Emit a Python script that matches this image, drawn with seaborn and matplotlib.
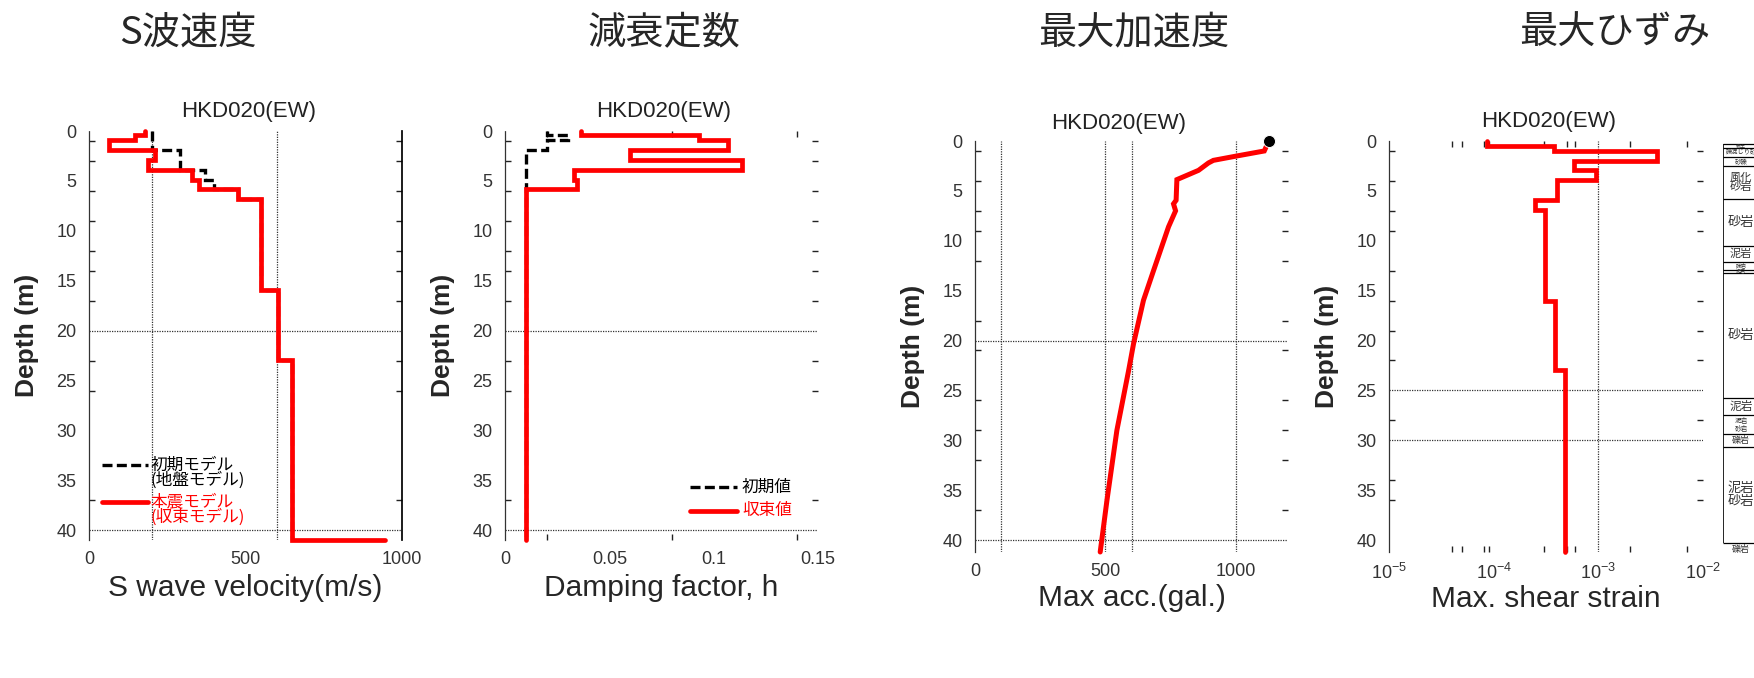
import numpy as np
import pandas as pd
import matplotlib
matplotlib.use("Agg")
import matplotlib.pyplot as plt
import seaborn as sns
from matplotlib.ticker import FixedLocator, NullFormatter, LogFormatterSciNotation

# --- data ---------------------------------------------------------------
# layer boundaries (m) for the velocity / damping profiles
layer_depth = [0, 0.4, 0.95, 1.95, 2.95, 3.9, 4.9, 5.85, 6.85, 15.9, 22.9, 41.0]
vs_initial = [200, 200, 200, 290, 290, 370, 400, 475, 548, 605, 650]
vs_final = [180, 146, 63, 211, 188, 328, 351, 475, 548, 605, 650]
vs_base = 945
h_initial = [0.02, 0.03, 0.02, 0.01, 0.01, 0.01, 0.01, 0.01, 0.01, 0.01, 0.01]
h_final = [0.0365, 0.093, 0.107, 0.060, 0.1136, 0.0331, 0.0344, 0.01, 0.01, 0.01, 0.01]

acc_depth = [0, 0.6, 1.0, 1.5, 1.94, 2.2, 2.94, 3.87, 5.94, 6.3, 7.0, 8.6,
             12.95, 15.96, 20.3, 23.0, 29.0, 36.0, 41.2]
acc_max = [1126, 1116, 1109, 1004, 914, 895, 857, 774, 771, 761, 769, 742,
           685, 646, 608, 589, 544, 506, 480]

strain_depth = [0, 0.5, 1.0, 2.0, 2.95, 3.95, 5.95, 6.95, 16.0, 23.0, 41.2]
strain_max = [8.7e-5, 3.74e-4, 3.66e-3, 5.86e-4, 9.4e-4, 4.03e-4, 2.48e-4,
              3.07e-4, 3.83e-4, 4.77e-4]

geo_depth = [0.27, 0.7, 1.6, 2.53, 5.77, 10.5, 12.1, 12.9, 13.2, 25.8, 27.5,
             29.4, 30.7, 40.3, 41.6]
geo_names = ["表土", "礫混じり砂", "砂礫", "風化\n砂岩", "砂岩", "泥岩", "礫岩", "泥岩",
             "砂岩", "泥岩", "泥岩\n砂岩", "礫岩", "泥岩\n砂岩", "礫岩"]

titles = ["S波速度", "減衰定数", "最大加速度", "最大ひずみ"]
station = "HKD020(EW)"

CJK = "Noto Sans CJK JP"
RED = "#ff0000"
GRID = dict(color="#333333", lw=0.9, ls=(0, (1, 1)), zorder=1)

sns.set_theme(style="white")
plt.rcParams["font.family"] = ["Liberation Sans", CJK]


def step_profile(depth, values, base=None):
    rows = []
    for top, bot, v in zip(depth[:-1], depth[1:], values):
        rows += [(v, top), (v, bot)]
    if base is not None:
        rows.append((base, depth[-1]))
    return pd.DataFrame(rows, columns=["value", "depth"])


W, H = 1754, 678


def box(l, t, r, b):
    return [l / W, 1 - b / H, (r - l) / W, (b - t) / H]


def style_axes(ax, yminor, xminor=(), right_spine=False):
    for s in ["top", "bottom"]:
        ax.spines[s].set_visible(False)
    ax.spines["right"].set_visible(right_spine)
    ax.spines["right"].set_color("black")
    ax.spines["left"].set_linestyle((0, (1, 1)))
    ax.spines["left"].set_linewidth(0.9)
    ax.spines["left"].set_color("#333333")
    ax.set_yticks(np.arange(0, 41, 5))
    ax.yaxis.set_minor_locator(FixedLocator(yminor))
    ax.tick_params(axis="both", which="major", length=0, labelsize=13,
                   labelcolor="#333333")
    ax.tick_params(axis="y", which="major", pad=9)
    ax.tick_params(axis="x", which="major", pad=8)
    ax.tick_params(axis="y", which="minor", direction="in", length=4, width=1,
                   left=True, right=True, color="#222222")
    if len(xminor):
        ax.xaxis.set_minor_locator(FixedLocator(xminor))
        ax.xaxis.set_minor_formatter(NullFormatter())
        ax.tick_params(axis="x", which="minor", direction="in", length=4, width=1,
                       top=True, bottom=True, color="#222222")
    else:
        ax.tick_params(axis="x", which="minor", length=0)
    ax.set_ylabel("Depth (m)", fontsize=19, fontweight="bold", va="center")
    ax.yaxis.set_label_coords(-0.197, 0.5)


def set_xlabel(ax, text, y=-0.117):
    ax.set_xlabel(text, fontsize=21.5, va="center")
    ax.xaxis.set_label_coords(0.5, y)


def legend_rows(ax, x0, x1, xt, rows):
    # rows: (y, line style dict, [text lines], color)
    for y, style, lines, color in rows:
        ax.plot([x0, x1], [y, y], transform=ax.transAxes, clip_on=False, **style)
        for i, line in enumerate(lines):
            ax.text(xt, y - i * 0.037, line, transform=ax.transAxes, ha="left",
                    va="center", fontsize=12, color=color, family=[CJK, "Liberation Sans"])


fig = plt.figure(figsize=(W / 100, H / 100), dpi=100)

black_dash = dict(color="black", lw=2.4, ls=(0, (3, 1.3)))
red_solid = dict(color=RED, lw=3.4)
line_kw = dict(sort=False, estimator=None, clip_on=False, legend=False,
               solid_joinstyle="miter", dash_joinstyle="miter")

# --- panel 1 : S wave velocity --------------------------------------------
ax1 = fig.add_axes(box(89, 131, 402, 540.3))
for v in [200, 600]:
    ax1.axvline(v, **GRID)
for d in [20, 40]:
    ax1.axhline(d, **GRID)
sns.lineplot(data=step_profile(layer_depth, vs_initial), x="value", y="depth",
             ax=ax1, **black_dash, **line_kw)
sns.lineplot(data=step_profile(layer_depth, vs_final, vs_base), x="value", y="depth",
             ax=ax1, **red_solid, **line_kw)
ax1.set_xlim(0, 1000)
ax1.set_ylim(41, 0)
ax1.set_xticks([0, 500, 1000])
style_axes(ax1, [1, 3, 6, 9, 12, 14, 17, 20, 23, 26, 37, 40], right_spine=True)
set_xlabel(ax1, "S wave velocity(m/s)")
legend_rows(ax1, 0.042, 0.188, 0.196, [
    (0.184, black_dash, ["初期モデル", "(地盤モデル)"], "black"),
    (0.094, red_solid, ["本震モデル", "(収束モデル)"], RED),
])

# --- panel 2 : damping ----------------------------------------------------
ax2 = fig.add_axes(box(505, 131, 818, 540.3))
for d in [20, 40]:
    ax2.axhline(d, **GRID)
sns.lineplot(data=step_profile(layer_depth, h_initial), x="value", y="depth",
             ax=ax2, **black_dash, **line_kw)
sns.lineplot(data=step_profile(layer_depth, h_final), x="value", y="depth",
             ax=ax2, **red_solid, **line_kw)
ax2.set_xlim(0, 0.15)
ax2.set_ylim(41, 0)
ax2.set_xticks([0, 0.05, 0.1, 0.15])
ax2.set_xticklabels(["0", "0.05", "0.1", "0.15"])
style_axes(ax2, [1, 3, 6, 9, 12, 14, 17, 20, 23, 26, 37, 40], xminor=[0.02, 0.08, 0.14])
set_xlabel(ax2, "Damping factor, h")
legend_rows(ax2, 0.591, 0.741, 0.757, [
    (0.130, black_dash, ["初期値"], "black"),
    (0.072, red_solid, ["収束値"], RED),
])

# --- panel 3 : max acceleration -------------------------------------------
ax3 = fig.add_axes(box(975, 141, 1288, 552))
for v in [100, 500, 600, 1000]:
    ax3.axvline(v, **GRID)
for d in [20, 40]:
    ax3.axhline(d, **GRID)
acc = pd.DataFrame({"acc": acc_max, "depth": acc_depth})
sns.lineplot(data=acc, x="acc", y="depth", ax=ax3, color=RED, lw=3.6, **line_kw)
sns.scatterplot(data=acc.iloc[:1], x="acc", y="depth", ax=ax3, color="black",
                s=75, zorder=5, clip_on=False, legend=False)
ax3.set_xlim(0, 1200)
ax3.set_ylim(41.2, 0)
ax3.set_xticks([0, 500, 1000])
style_axes(ax3, [1, 4, 7, 9, 12, 15, 18, 20, 21, 26, 29, 32, 37, 40])
set_xlabel(ax3, "Max acc.(gal.)", y=-0.112)

# --- panel 4 : max shear strain -------------------------------------------
ax4 = fig.add_axes(box(1389, 141, 1703, 552))
ax4.axvline(1e-3, **GRID)
for d in [25, 30]:
    ax4.axhline(d, **GRID)
sns.lineplot(data=step_profile(strain_depth, strain_max), x="value", y="depth",
             ax=ax4, **red_solid, **line_kw)
ax4.set_xscale("log")
ax4.set_xlim(1e-5, 1e-2)
ax4.set_ylim(41.2, 0)
ax4.xaxis.set_major_locator(FixedLocator([1e-5, 1e-4, 1e-3, 1e-2]))
ax4.xaxis.set_major_formatter(LogFormatterSciNotation())
style_axes(ax4, [1, 4, 7, 9, 13, 16, 19, 22, 25, 28, 34, 36],
           xminor=[4e-5, 5e-5, 8e-5, 9e-5, 3e-4, 5e-4, 6e-4, 2e-3, 7e-3])
set_xlabel(ax4, "Max. shear strain", y=-0.114)

# --- geology column -------------------------------------------------------
axg = fig.add_axes(box(1723, 141, 1759, 552))
axg.set_xlim(0, 1)
axg.set_ylim(41.2, 0)
axg.set_axis_off()
axg.vlines(0, geo_depth[0], geo_depth[-2], color="black", lw=1.2)
axg.hlines(geo_depth[:-1], 0, 1, color="black", lw=0.9)
for top, bot, name in zip(geo_depth[:-1], geo_depth[1:], geo_names):
    n = name.count("\n") + 1
    size = float(np.clip(0.5 * (bot - top) * 9.975 / n, 3.6, 9.5))
    axg.text(0.5, (top + bot) / 2, name, ha="center", va="center", fontsize=size,
             color="#333333", linespacing=0.95, family=[CJK], clip_on=False)

# --- headings -------------------------------------------------------------
for (x, y), t in zip([(188, 33), (664, 33), (1134, 33), (1615, 33)], titles):
    fig.text(x / W, 1 - y / H, t, ha="center", va="center", fontsize=27.5,
             family=[CJK, "Liberation Sans"])
for x, y in [(249, 112), (664, 112), (1119, 123), (1549, 122)]:
    fig.text(x / W, 1 - y / H, station, ha="center", va="center", fontsize=16,
             color="#222222")

fig.savefig("out.png", dpi=100)
